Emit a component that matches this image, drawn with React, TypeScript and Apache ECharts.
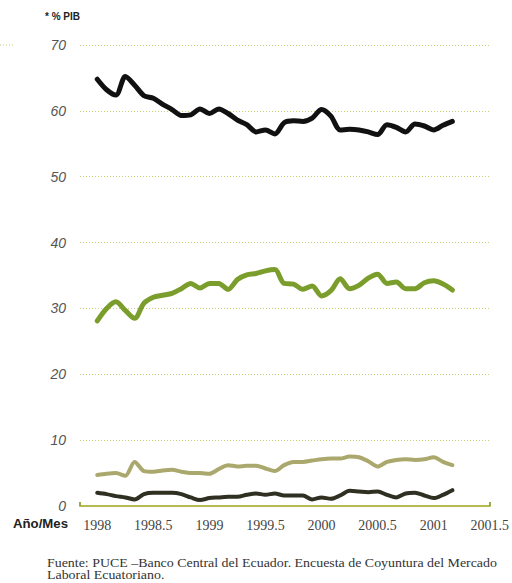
import React, { useEffect, useRef } from "react";
import * as echarts from "echarts";

// monthly observations starting January 1998
const startYear = 1998;
const ocupados = [64.8, 63.2, 62.4, 65.2, 63.9, 62.3, 61.9, 61.0, 60.2, 59.3, 59.4, 60.3, 59.6, 60.3, 59.6, 58.6, 57.9, 56.8, 57.1, 56.5, 58.2, 58.5, 58.4, 58.9, 60.2, 59.2, 57.1, 57.2, 57.1, 56.8, 56.4, 57.9, 57.5, 56.8, 58.0, 57.7, 57.1, 57.8, 58.4];
const subocupados = [28.1, 30.0, 31.0, 29.7, 28.5, 30.8, 31.7, 32.0, 32.3, 33.0, 33.8, 33.1, 33.8, 33.8, 32.9, 34.4, 35.1, 35.3, 35.7, 35.9, 33.8, 33.7, 32.9, 33.4, 31.9, 32.7, 34.5, 33.0, 33.5, 34.6, 35.2, 33.8, 34.0, 33.0, 33.0, 33.9, 34.2, 33.7, 32.8];
const desocupados = [4.7, 4.9, 5.0, 4.6, 6.7, 5.3, 5.2, 5.4, 5.5, 5.2, 5.0, 5.0, 4.9, 5.6, 6.2, 6.0, 6.1, 6.1, 5.7, 5.3, 6.2, 6.7, 6.7, 6.9, 7.1, 7.2, 7.2, 7.5, 7.4, 6.8, 6.0, 6.7, 7.0, 7.1, 7.0, 7.1, 7.4, 6.7, 6.2];
const otros = [2.0, 1.8, 1.5, 1.3, 1.0, 1.8, 2.0, 2.0, 2.0, 1.8, 1.3, 0.9, 1.2, 1.3, 1.4, 1.4, 1.7, 1.9, 1.7, 1.9, 1.6, 1.6, 1.6, 1.0, 1.3, 1.1, 1.6, 2.3, 2.2, 2.1, 2.2, 1.7, 1.3, 1.9, 2.0, 1.6, 1.2, 1.7, 2.4];
const xTicks = [1998, 1998.5, 1999, 1999.5, 2000, 2000.5, 2001, 2001.5];

const toPairs = (arr: number[]) => arr.map((v, k) => [startYear + k / 12, v]);

export default function App() {
  const ref = useRef<HTMLDivElement>(null);
  useEffect(() => {
    document.body.style.margin = "0";
    const chart = echarts.init(ref.current!, null, { renderer: "svg" });
    const gridColor = "#c9cc78";
    const lineSeries = (name: string, data: number[], color: string, width: number) => ({
      name,
      type: "line",
      data: toPairs(data),
      showSymbol: false,
      symbol: "none",
      smooth: 0.3,
      lineStyle: { color, width, cap: "round", join: "round" },
    });
    chart.setOption({
      animation: false,
      grid: { left: 80, right: 4, top: 45, bottom: 77 },
      xAxis: {
        type: "value",
        min: 1997.846,
        max: 2001.504,
        axisLine: { show: true, lineStyle: { color: "#b3bb4e", width: 2, type: [2, 1] } },
        axisTick: { show: true, customValues: [1997.846, 2001.504], length: 4, inside: true, lineStyle: { color: "#9aa84a", width: 2 } },
        splitLine: { show: false },
        axisLabel: {
          customValues: xTicks,
          formatter: (v: number) => String(v),
          color: "#444",
          fontFamily: "Liberation Serif",
          fontSize: 14,
          margin: 12,
        },
      },
      yAxis: {
        type: "value",
        min: 0,
        max: 70,
        interval: 10,
        axisLine: { show: false },
        axisTick: { show: false },
        splitLine: { show: true, lineStyle: { color: gridColor, width: 1, type: [1, 2] } },
        axisLabel: {
          color: "#555",
          fontStyle: "italic",
          fontFamily: "Liberation Sans",
          fontSize: 14,
          margin: 14,
          padding: [0, 0, 8, 0],
        },
      },
      series: [
        lineSeries("ocupados", ocupados, "#111111", 5),
        lineSeries("subocupados", subocupados, "#7b9d2c", 5),
        lineSeries("desocupados", desocupados, "#aaa86c", 4),
        lineSeries("otros", otros, "#2f3022", 4),
      ],
      graphic: [
        { type: "text", left: 45, top: 11, style: { text: "* % PIB", font: "bold 10px 'Liberation Sans'", fill: "#222" } },
        { type: "line", shape: { x1: 0, y1: 45, x2: 15, y2: 45 }, style: { stroke: gridColor, lineWidth: 1, lineDash: [1, 2] } },
        { type: "text", x: 13, y: 518, style: { text: "Año/Mes", font: "bold 12px 'Liberation Sans'", fill: "#222" }, scaleX: 1.1 },
        {
          type: "text",
          x: 47,
          y: 557,
          scaleX: 1.16,
          style: {
            text: "Fuente: PUCE –Banco Central del Ecuador. Encuesta de Coyuntura del Mercado\nLaboral Ecuatoriano.",
            font: "12px 'Liberation Serif'",
            fill: "#333",
            lineHeight: 12,
          },
        },
      ],
    });
    return () => chart.dispose();
  }, []);
  return <div ref={ref} style={{ width: 512, height: 583 }} />;
}
